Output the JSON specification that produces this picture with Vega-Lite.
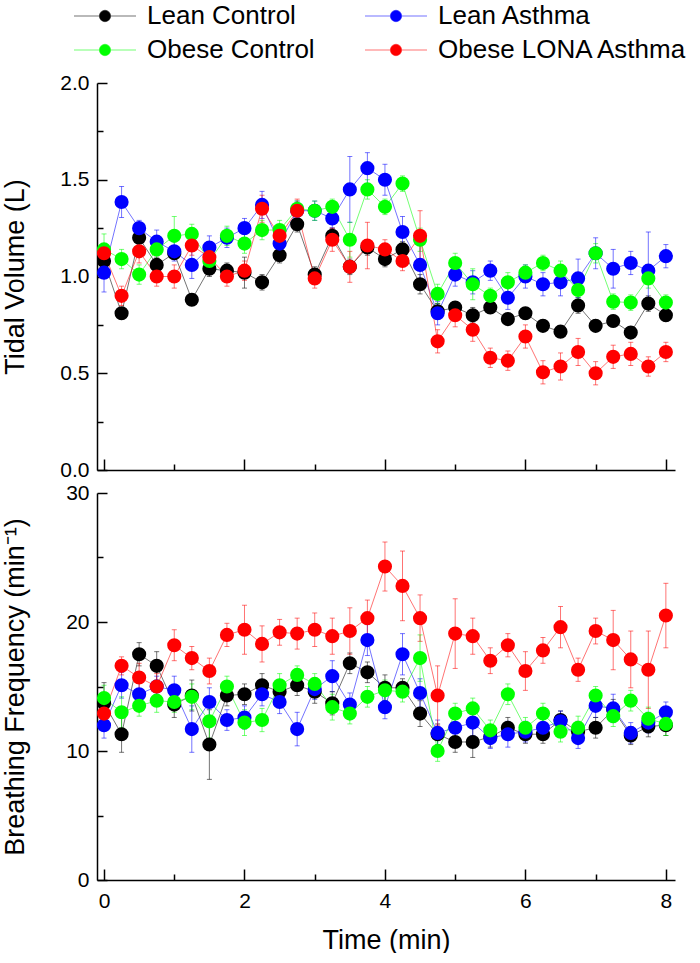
{
"$schema":"https://vega.github.io/schema/vega-lite/v6.json",
"padding":{"left":0,"top":3,"right":0,"bottom":0},
"datasets":{
"tv":[
{"t":0,"g":"Lean Control","v":1.08,"e":0.06},{"t":0.25,"g":"Lean Control","v":0.81,"e":0.03},{"t":0.5,"g":"Lean Control","v":1.2,"e":0.04},{"t":0.75,"g":"Lean Control","v":1.06,"e":0.04},{"t":1,"g":"Lean Control","v":1.12,"e":0.03},{"t":1.25,"g":"Lean Control","v":0.88,"e":0.03},{"t":1.5,"g":"Lean Control","v":1.04,"e":0.04},{"t":1.75,"g":"Lean Control","v":1.03,"e":0.04},{"t":2,"g":"Lean Control","v":1.02,"e":0.08},{"t":2.25,"g":"Lean Control","v":0.97,"e":0.04},{"t":2.5,"g":"Lean Control","v":1.11,"e":0.04},{"t":2.75,"g":"Lean Control","v":1.27,"e":0.04},{"t":3,"g":"Lean Control","v":1.01,"e":0.04},{"t":3.25,"g":"Lean Control","v":1.21,"e":0.04},{"t":3.5,"g":"Lean Control","v":1.05,"e":0.04},{"t":3.75,"g":"Lean Control","v":1.15,"e":0.04},{"t":4,"g":"Lean Control","v":1.09,"e":0.04},{"t":4.25,"g":"Lean Control","v":1.14,"e":0.04},{"t":4.5,"g":"Lean Control","v":0.96,"e":0.05},{"t":4.75,"g":"Lean Control","v":0.82,"e":0.04},{"t":5,"g":"Lean Control","v":0.84,"e":0.03},{"t":5.25,"g":"Lean Control","v":0.8,"e":0.04},{"t":5.5,"g":"Lean Control","v":0.84,"e":0.03},{"t":5.75,"g":"Lean Control","v":0.78,"e":0.03},{"t":6,"g":"Lean Control","v":0.81,"e":0.03},{"t":6.25,"g":"Lean Control","v":0.745,"e":0.03},{"t":6.5,"g":"Lean Control","v":0.715,"e":0.03},{"t":6.75,"g":"Lean Control","v":0.85,"e":0.04},{"t":7,"g":"Lean Control","v":0.745,"e":0.03},{"t":7.25,"g":"Lean Control","v":0.77,"e":0.03},{"t":7.5,"g":"Lean Control","v":0.71,"e":0.03},{"t":7.75,"g":"Lean Control","v":0.86,"e":0.04},{"t":8,"g":"Lean Control","v":0.8,"e":0.03},
{"t":0,"g":"Lean Asthma","v":1.02,"e":0.1},{"t":0.25,"g":"Lean Asthma","v":1.385,"e":0.08},{"t":0.5,"g":"Lean Asthma","v":1.25,"e":0.04},{"t":0.75,"g":"Lean Asthma","v":1.18,"e":0.06},{"t":1,"g":"Lean Asthma","v":1.13,"e":0.05},{"t":1.25,"g":"Lean Asthma","v":1.06,"e":0.07},{"t":1.5,"g":"Lean Asthma","v":1.15,"e":0.06},{"t":1.75,"g":"Lean Asthma","v":1.2,"e":0.05},{"t":2,"g":"Lean Asthma","v":1.25,"e":0.05},{"t":2.25,"g":"Lean Asthma","v":1.37,"e":0.07},{"t":2.5,"g":"Lean Asthma","v":1.17,"e":0.05},{"t":2.75,"g":"Lean Asthma","v":1.34,"e":0.05},{"t":3,"g":"Lean Asthma","v":1.34,"e":0.05},{"t":3.25,"g":"Lean Asthma","v":1.3,"e":0.05},{"t":3.5,"g":"Lean Asthma","v":1.45,"e":0.17},{"t":3.75,"g":"Lean Asthma","v":1.56,"e":0.08},{"t":4,"g":"Lean Asthma","v":1.5,"e":0.08},{"t":4.25,"g":"Lean Asthma","v":1.23,"e":0.08},{"t":4.5,"g":"Lean Asthma","v":1.06,"e":0.1},{"t":4.75,"g":"Lean Asthma","v":0.81,"e":0.06},{"t":5,"g":"Lean Asthma","v":1.01,"e":0.06},{"t":5.25,"g":"Lean Asthma","v":0.97,"e":0.06},{"t":5.5,"g":"Lean Asthma","v":1.03,"e":0.05},{"t":5.75,"g":"Lean Asthma","v":0.89,"e":0.06},{"t":6,"g":"Lean Asthma","v":1.0,"e":0.06},{"t":6.25,"g":"Lean Asthma","v":0.96,"e":0.06},{"t":6.5,"g":"Lean Asthma","v":0.97,"e":0.07},{"t":6.75,"g":"Lean Asthma","v":0.99,"e":0.1},{"t":7,"g":"Lean Asthma","v":1.12,"e":0.08},{"t":7.25,"g":"Lean Asthma","v":1.04,"e":0.1},{"t":7.5,"g":"Lean Asthma","v":1.07,"e":0.06},{"t":7.75,"g":"Lean Asthma","v":1.03,"e":0.2},{"t":8,"g":"Lean Asthma","v":1.105,"e":0.06},
{"t":0,"g":"Obese Control","v":1.14,"e":0.08},{"t":0.25,"g":"Obese Control","v":1.09,"e":0.05},{"t":0.5,"g":"Obese Control","v":1.01,"e":0.05},{"t":0.75,"g":"Obese Control","v":1.14,"e":0.06},{"t":1,"g":"Obese Control","v":1.21,"e":0.1},{"t":1.25,"g":"Obese Control","v":1.22,"e":0.05},{"t":1.5,"g":"Obese Control","v":1.08,"e":0.05},{"t":1.75,"g":"Obese Control","v":1.21,"e":0.05},{"t":2,"g":"Obese Control","v":1.17,"e":0.05},{"t":2.25,"g":"Obese Control","v":1.24,"e":0.05},{"t":2.5,"g":"Obese Control","v":1.24,"e":0.05},{"t":2.75,"g":"Obese Control","v":1.35,"e":0.04},{"t":3,"g":"Obese Control","v":1.34,"e":0.05},{"t":3.25,"g":"Obese Control","v":1.36,"e":0.04},{"t":3.5,"g":"Obese Control","v":1.19,"e":0.09},{"t":3.75,"g":"Obese Control","v":1.45,"e":0.05},{"t":4,"g":"Obese Control","v":1.36,"e":0.04},{"t":4.25,"g":"Obese Control","v":1.48,"e":0.04},{"t":4.5,"g":"Obese Control","v":1.19,"e":0.06},{"t":4.75,"g":"Obese Control","v":0.91,"e":0.05},{"t":5,"g":"Obese Control","v":1.07,"e":0.05},{"t":5.25,"g":"Obese Control","v":0.96,"e":0.08},{"t":5.5,"g":"Obese Control","v":0.9,"e":0.04},{"t":5.75,"g":"Obese Control","v":0.97,"e":0.05},{"t":6,"g":"Obese Control","v":1.02,"e":0.04},{"t":6.25,"g":"Obese Control","v":1.07,"e":0.04},{"t":6.5,"g":"Obese Control","v":1.03,"e":0.05},{"t":6.75,"g":"Obese Control","v":0.93,"e":0.05},{"t":7,"g":"Obese Control","v":1.12,"e":0.05},{"t":7.25,"g":"Obese Control","v":0.87,"e":0.04},{"t":7.5,"g":"Obese Control","v":0.865,"e":0.04},{"t":7.75,"g":"Obese Control","v":0.99,"e":0.05},{"t":8,"g":"Obese Control","v":0.865,"e":0.04},
{"t":0,"g":"Obese LONA Asthma","v":1.12,"e":0.05},{"t":0.25,"g":"Obese LONA Asthma","v":0.9,"e":0.05},{"t":0.5,"g":"Obese LONA Asthma","v":1.13,"e":0.06},{"t":0.75,"g":"Obese LONA Asthma","v":1.0,"e":0.05},{"t":1,"g":"Obese LONA Asthma","v":1.0,"e":0.06},{"t":1.25,"g":"Obese LONA Asthma","v":1.16,"e":0.05},{"t":1.5,"g":"Obese LONA Asthma","v":1.1,"e":0.06},{"t":1.75,"g":"Obese LONA Asthma","v":1.0,"e":0.05},{"t":2,"g":"Obese LONA Asthma","v":1.03,"e":0.05},{"t":2.25,"g":"Obese LONA Asthma","v":1.35,"e":0.07},{"t":2.5,"g":"Obese LONA Asthma","v":1.21,"e":0.05},{"t":2.75,"g":"Obese LONA Asthma","v":1.34,"e":0.06},{"t":3,"g":"Obese LONA Asthma","v":0.99,"e":0.05},{"t":3.25,"g":"Obese LONA Asthma","v":1.19,"e":0.06},{"t":3.5,"g":"Obese LONA Asthma","v":1.05,"e":0.08},{"t":3.75,"g":"Obese LONA Asthma","v":1.16,"e":0.12},{"t":4,"g":"Obese LONA Asthma","v":1.14,"e":0.05},{"t":4.25,"g":"Obese LONA Asthma","v":1.08,"e":0.05},{"t":4.5,"g":"Obese LONA Asthma","v":1.21,"e":0.13},{"t":4.75,"g":"Obese LONA Asthma","v":0.665,"e":0.06},{"t":5,"g":"Obese LONA Asthma","v":0.8,"e":0.06},{"t":5.25,"g":"Obese LONA Asthma","v":0.725,"e":0.06},{"t":5.5,"g":"Obese LONA Asthma","v":0.58,"e":0.05},{"t":5.75,"g":"Obese LONA Asthma","v":0.565,"e":0.05},{"t":6,"g":"Obese LONA Asthma","v":0.69,"e":0.06},{"t":6.25,"g":"Obese LONA Asthma","v":0.505,"e":0.06},{"t":6.5,"g":"Obese LONA Asthma","v":0.535,"e":0.07},{"t":6.75,"g":"Obese LONA Asthma","v":0.61,"e":0.07},{"t":7,"g":"Obese LONA Asthma","v":0.5,"e":0.06},{"t":7.25,"g":"Obese LONA Asthma","v":0.585,"e":0.06},{"t":7.5,"g":"Obese LONA Asthma","v":0.6,"e":0.06},{"t":7.75,"g":"Obese LONA Asthma","v":0.535,"e":0.05},{"t":8,"g":"Obese LONA Asthma","v":0.61,"e":0.05}
],
"bf":[
{"t":0,"g":"Lean Control","v":13.7,"e":1.6},{"t":0.25,"g":"Lean Control","v":11.3,"e":1.4},{"t":0.5,"g":"Lean Control","v":17.5,"e":0.9},{"t":0.75,"g":"Lean Control","v":16.6,"e":1.1},{"t":1,"g":"Lean Control","v":13.6,"e":1.0},{"t":1.25,"g":"Lean Control","v":14.3,"e":1.2},{"t":1.5,"g":"Lean Control","v":10.5,"e":2.7},{"t":1.75,"g":"Lean Control","v":14.3,"e":0.8},{"t":2,"g":"Lean Control","v":14.4,"e":0.8},{"t":2.25,"g":"Lean Control","v":15.1,"e":0.9},{"t":2.5,"g":"Lean Control","v":14.6,"e":0.8},{"t":2.75,"g":"Lean Control","v":15.1,"e":0.8},{"t":3,"g":"Lean Control","v":14.6,"e":0.9},{"t":3.25,"g":"Lean Control","v":13.7,"e":0.9},{"t":3.5,"g":"Lean Control","v":16.8,"e":0.8},{"t":3.75,"g":"Lean Control","v":16.1,"e":0.8},{"t":4,"g":"Lean Control","v":14.9,"e":1.0},{"t":4.25,"g":"Lean Control","v":14.9,"e":0.7},{"t":4.5,"g":"Lean Control","v":12.9,"e":1.0},{"t":4.75,"g":"Lean Control","v":11.3,"e":0.8},{"t":5,"g":"Lean Control","v":10.7,"e":0.8},{"t":5.25,"g":"Lean Control","v":10.7,"e":1.2},{"t":5.5,"g":"Lean Control","v":11.1,"e":0.8},{"t":5.75,"g":"Lean Control","v":11.8,"e":0.8},{"t":6,"g":"Lean Control","v":11.3,"e":0.7},{"t":6.25,"g":"Lean Control","v":11.3,"e":0.7},{"t":6.5,"g":"Lean Control","v":12.4,"e":0.7},{"t":6.75,"g":"Lean Control","v":11.5,"e":0.8},{"t":7,"g":"Lean Control","v":11.8,"e":0.8},{"t":7.25,"g":"Lean Control","v":13.2,"e":0.8},{"t":7.5,"g":"Lean Control","v":11.2,"e":0.7},{"t":7.75,"g":"Lean Control","v":11.9,"e":0.8},{"t":8,"g":"Lean Control","v":12.0,"e":0.8},
{"t":0,"g":"Lean Asthma","v":12.0,"e":1.0},{"t":0.25,"g":"Lean Asthma","v":15.1,"e":1.0},{"t":0.5,"g":"Lean Asthma","v":14.4,"e":1.0},{"t":0.75,"g":"Lean Asthma","v":15.0,"e":0.8},{"t":1,"g":"Lean Asthma","v":14.7,"e":1.1},{"t":1.25,"g":"Lean Asthma","v":11.7,"e":1.8},{"t":1.5,"g":"Lean Asthma","v":13.8,"e":1.1},{"t":1.75,"g":"Lean Asthma","v":12.4,"e":0.8},{"t":2,"g":"Lean Asthma","v":12.6,"e":0.9},{"t":2.25,"g":"Lean Asthma","v":14.4,"e":0.9},{"t":2.5,"g":"Lean Asthma","v":13.8,"e":0.9},{"t":2.75,"g":"Lean Asthma","v":11.7,"e":1.3},{"t":3,"g":"Lean Asthma","v":14.8,"e":0.8},{"t":3.25,"g":"Lean Asthma","v":15.8,"e":1.2},{"t":3.5,"g":"Lean Asthma","v":13.6,"e":0.9},{"t":3.75,"g":"Lean Asthma","v":18.6,"e":1.2},{"t":4,"g":"Lean Asthma","v":13.4,"e":0.9},{"t":4.25,"g":"Lean Asthma","v":17.5,"e":1.6},{"t":4.5,"g":"Lean Asthma","v":14.5,"e":1.1},{"t":4.75,"g":"Lean Asthma","v":11.4,"e":1.0},{"t":5,"g":"Lean Asthma","v":11.8,"e":0.9},{"t":5.25,"g":"Lean Asthma","v":12.2,"e":1.0},{"t":5.5,"g":"Lean Asthma","v":11.0,"e":0.8},{"t":5.75,"g":"Lean Asthma","v":11.3,"e":1.0},{"t":6,"g":"Lean Asthma","v":11.5,"e":0.8},{"t":6.25,"g":"Lean Asthma","v":11.8,"e":0.8},{"t":6.5,"g":"Lean Asthma","v":12.3,"e":0.8},{"t":6.75,"g":"Lean Asthma","v":11.0,"e":0.8},{"t":7,"g":"Lean Asthma","v":13.5,"e":0.9},{"t":7.25,"g":"Lean Asthma","v":13.3,"e":1.1},{"t":7.5,"g":"Lean Asthma","v":11.4,"e":0.8},{"t":7.75,"g":"Lean Asthma","v":12.2,"e":0.8},{"t":8,"g":"Lean Asthma","v":13.0,"e":0.8},
{"t":0,"g":"Obese Control","v":14.1,"e":1.0},{"t":0.25,"g":"Obese Control","v":13.0,"e":1.2},{"t":0.5,"g":"Obese Control","v":13.5,"e":0.8},{"t":0.75,"g":"Obese Control","v":13.9,"e":0.9},{"t":1,"g":"Obese Control","v":13.8,"e":0.8},{"t":1.25,"g":"Obese Control","v":14.2,"e":1.0},{"t":1.5,"g":"Obese Control","v":12.3,"e":1.3},{"t":1.75,"g":"Obese Control","v":15.0,"e":0.8},{"t":2,"g":"Obese Control","v":12.2,"e":1.0},{"t":2.25,"g":"Obese Control","v":12.4,"e":0.9},{"t":2.5,"g":"Obese Control","v":15.1,"e":0.9},{"t":2.75,"g":"Obese Control","v":15.9,"e":0.7},{"t":3,"g":"Obese Control","v":15.2,"e":0.8},{"t":3.25,"g":"Obese Control","v":13.4,"e":1.0},{"t":3.5,"g":"Obese Control","v":12.9,"e":0.8},{"t":3.75,"g":"Obese Control","v":14.2,"e":0.8},{"t":4,"g":"Obese Control","v":14.7,"e":0.8},{"t":4.25,"g":"Obese Control","v":14.6,"e":0.8},{"t":4.5,"g":"Obese Control","v":17.2,"e":1.8},{"t":4.75,"g":"Obese Control","v":10.0,"e":0.8},{"t":5,"g":"Obese Control","v":12.9,"e":0.8},{"t":5.25,"g":"Obese Control","v":13.3,"e":0.8},{"t":5.5,"g":"Obese Control","v":11.6,"e":0.8},{"t":5.75,"g":"Obese Control","v":14.4,"e":0.8},{"t":6,"g":"Obese Control","v":11.8,"e":0.8},{"t":6.25,"g":"Obese Control","v":12.9,"e":0.8},{"t":6.5,"g":"Obese Control","v":11.5,"e":0.8},{"t":6.75,"g":"Obese Control","v":11.8,"e":0.9},{"t":7,"g":"Obese Control","v":14.3,"e":0.7},{"t":7.25,"g":"Obese Control","v":12.7,"e":0.8},{"t":7.5,"g":"Obese Control","v":13.9,"e":0.8},{"t":7.75,"g":"Obese Control","v":12.5,"e":0.9},{"t":8,"g":"Obese Control","v":12.1,"e":0.9},
{"t":0,"g":"Obese LONA Asthma","v":12.9,"e":1.0},{"t":0.25,"g":"Obese LONA Asthma","v":16.6,"e":0.7},{"t":0.5,"g":"Obese LONA Asthma","v":15.7,"e":1.1},{"t":0.75,"g":"Obese LONA Asthma","v":15.0,"e":1.0},{"t":1,"g":"Obese LONA Asthma","v":18.2,"e":1.2},{"t":1.25,"g":"Obese LONA Asthma","v":17.2,"e":0.9},{"t":1.5,"g":"Obese LONA Asthma","v":16.2,"e":1.0},{"t":1.75,"g":"Obese LONA Asthma","v":19.0,"e":0.9},{"t":2,"g":"Obese LONA Asthma","v":19.4,"e":1.9},{"t":2.25,"g":"Obese LONA Asthma","v":18.3,"e":1.4},{"t":2.5,"g":"Obese LONA Asthma","v":19.2,"e":1.0},{"t":2.75,"g":"Obese LONA Asthma","v":19.1,"e":1.2},{"t":3,"g":"Obese LONA Asthma","v":19.4,"e":1.3},{"t":3.25,"g":"Obese LONA Asthma","v":18.9,"e":1.4},{"t":3.5,"g":"Obese LONA Asthma","v":19.3,"e":1.8},{"t":3.75,"g":"Obese LONA Asthma","v":20.3,"e":1.4},{"t":4,"g":"Obese LONA Asthma","v":24.3,"e":1.9},{"t":4.25,"g":"Obese LONA Asthma","v":22.8,"e":2.7},{"t":4.5,"g":"Obese LONA Asthma","v":20.3,"e":1.8},{"t":4.75,"g":"Obese LONA Asthma","v":14.3,"e":2.3},{"t":5,"g":"Obese LONA Asthma","v":19.1,"e":2.7},{"t":5.25,"g":"Obese LONA Asthma","v":18.9,"e":1.4},{"t":5.5,"g":"Obese LONA Asthma","v":17.0,"e":1.0},{"t":5.75,"g":"Obese LONA Asthma","v":18.2,"e":0.9},{"t":6,"g":"Obese LONA Asthma","v":16.2,"e":1.5},{"t":6.25,"g":"Obese LONA Asthma","v":17.8,"e":1.0},{"t":6.5,"g":"Obese LONA Asthma","v":19.6,"e":1.6},{"t":6.75,"g":"Obese LONA Asthma","v":16.3,"e":0.9},{"t":7,"g":"Obese LONA Asthma","v":19.3,"e":1.0},{"t":7.25,"g":"Obese LONA Asthma","v":18.6,"e":2.3},{"t":7.5,"g":"Obese LONA Asthma","v":17.1,"e":2.2},{"t":7.75,"g":"Obese LONA Asthma","v":16.3,"e":3.0},{"t":8,"g":"Obese LONA Asthma","v":20.5,"e":2.5}
]},
"vconcat":[
{
"width":578,"height":387,
"data":{"name":"tv"},
"encoding":{
"x":{"field":"t","type":"quantitative","scale":{"domain":[-0.1,8.13],"nice":false,"zero":false},"axis":{"values":[0,1,2,3,4,5,6,7,8],"labels":false,"title":null,"tickSize":{"condition":{"test":"datum.value % 2 === 0","value":-11},"value":-6}}},
"y":{"field":"v","type":"quantitative","scale":{"domain":[0,2],"nice":false},"axis":{"title":"Tidal Volume (L)","titleX":-68,"labelPadding":18,"values":[0,0.25,0.5,0.75,1,1.25,1.5,1.75,2],"format":".1f","labelExpr":"datum.value % 0.5 === 0 ? datum.label : ''","tickSize":{"condition":{"test":"datum.value % 0.5 === 0","value":-10},"value":-6}}},
"color":{"field":"g","type":"nominal","scale":{"domain":["Lean Control","Lean Asthma","Obese Control","Obese LONA Asthma"],"range":["#000000","#0000ff","#00ff00","#ff0000"]},"legend":{"orient":"none","direction":"horizontal","legendX":-5,"legendY":-80,"columns":2,"title":null,"symbolType":"M-2.5,0H-0.45M0.45,0H2.5M0.45,0A0.45,0.45,0,1,1,-0.45,0A0.45,0.45,0,1,1,0.45,0Z","symbolSize":615,"symbolStrokeWidth":1.2,"symbolOpacity":1,"labelFontSize":26,"labelOffset":29,"columnPadding":47,"rowPadding":8,"labelLimit":400,"encode":{"symbols":{"update":{"stroke":{"scale":"color","field":"value"},"strokeOpacity":{"value":0.55}}}}}}
},
"layer":[
{"data":{"values":[{}]},"mark":{"type":"rule","color":"#000000","strokeDash":[4,3],"strokeWidth":1},"encoding":{"x":{"datum":4.5,"type":"quantitative"},"y":{"datum":0,"type":"quantitative"},"y2":{"datum":1.9},"color":{"value":"#000000"}}},
{"mark":{"type":"errorbar","ticks":true,"thickness":1,"opacity":0.55},"encoding":{"yError":{"field":"e"}}},
{"mark":{"type":"line","strokeWidth":1,"opacity":0.55}},
{"mark":{"type":"point","filled":true,"size":200,"opacity":1}}
]
},
{
"width":578,"height":387,
"data":{"name":"bf"},
"encoding":{
"x":{"field":"t","type":"quantitative","scale":{"domain":[-0.1,8.13],"nice":false,"zero":false},"axis":{"values":[0,1,2,3,4,5,6,7,8],"title":"Time (min)","labelPadding":21,"titlePadding":16,"labelExpr":"datum.value % 2 === 0 ? datum.label : ''","tickSize":{"condition":{"test":"datum.value % 2 === 0","value":-11},"value":-6}}},
"y":{"field":"v","type":"quantitative","scale":{"domain":[0,30],"nice":false},"axis":{"title":"Breathing Frequency (min⁻¹)","titleX":-68,"labelPadding":18,"values":[0,5,10,15,20,25,30],"labelExpr":"datum.value % 10 === 0 ? datum.label : ''","tickSize":{"condition":{"test":"datum.value % 10 === 0","value":-10},"value":-6}}},
"color":{"field":"g","type":"nominal","scale":{"domain":["Lean Control","Lean Asthma","Obese Control","Obese LONA Asthma"],"range":["#000000","#0000ff","#00ff00","#ff0000"]},"legend":{"orient":"none","direction":"horizontal","legendX":-5,"legendY":-80,"columns":2,"title":null,"symbolType":"M-2.5,0H-0.45M0.45,0H2.5M0.45,0A0.45,0.45,0,1,1,-0.45,0A0.45,0.45,0,1,1,0.45,0Z","symbolSize":615,"symbolStrokeWidth":1.2,"symbolOpacity":1,"labelFontSize":26,"labelOffset":29,"columnPadding":47,"rowPadding":8,"labelLimit":400,"encode":{"symbols":{"update":{"stroke":{"scale":"color","field":"value"},"strokeOpacity":{"value":0.55}}}}}}
},
"layer":[
{"data":{"values":[{}]},"mark":{"type":"rule","color":"#000000","strokeDash":[4,3],"strokeWidth":1},"encoding":{"x":{"datum":4.5,"type":"quantitative"},"y":{"datum":0,"type":"quantitative"},"y2":{"datum":30},"color":{"value":"#000000"}}},
{"mark":{"type":"errorbar","ticks":true,"thickness":1,"opacity":0.55},"encoding":{"yError":{"field":"e"}}},
{"mark":{"type":"line","strokeWidth":1,"opacity":0.55}},
{"mark":{"type":"point","filled":true,"size":200,"opacity":1}}
]
}
],
"spacing":23,
"bounds":"flush",
"resolve":{"scale":{"color":"shared"},"legend":{"color":"shared"}},
"config":{
"font":"Liberation Sans",
"view":{"stroke":null},
"axis":{"grid":false,"domainColor":"#000000","domainWidth":1.5,"tickColor":"#000000","tickWidth":1.5,"labelColor":"#000000","labelFont":"Liberation Sans","labelFontSize":21,"titleFont":"Liberation Sans","titleFontSize":27,"titleFontWeight":"normal","titleColor":"#000000","labelPadding":4,"titlePadding":12},
"legend":{"labelFont":"Liberation Sans","labelColor":"#000000"}
}
}
